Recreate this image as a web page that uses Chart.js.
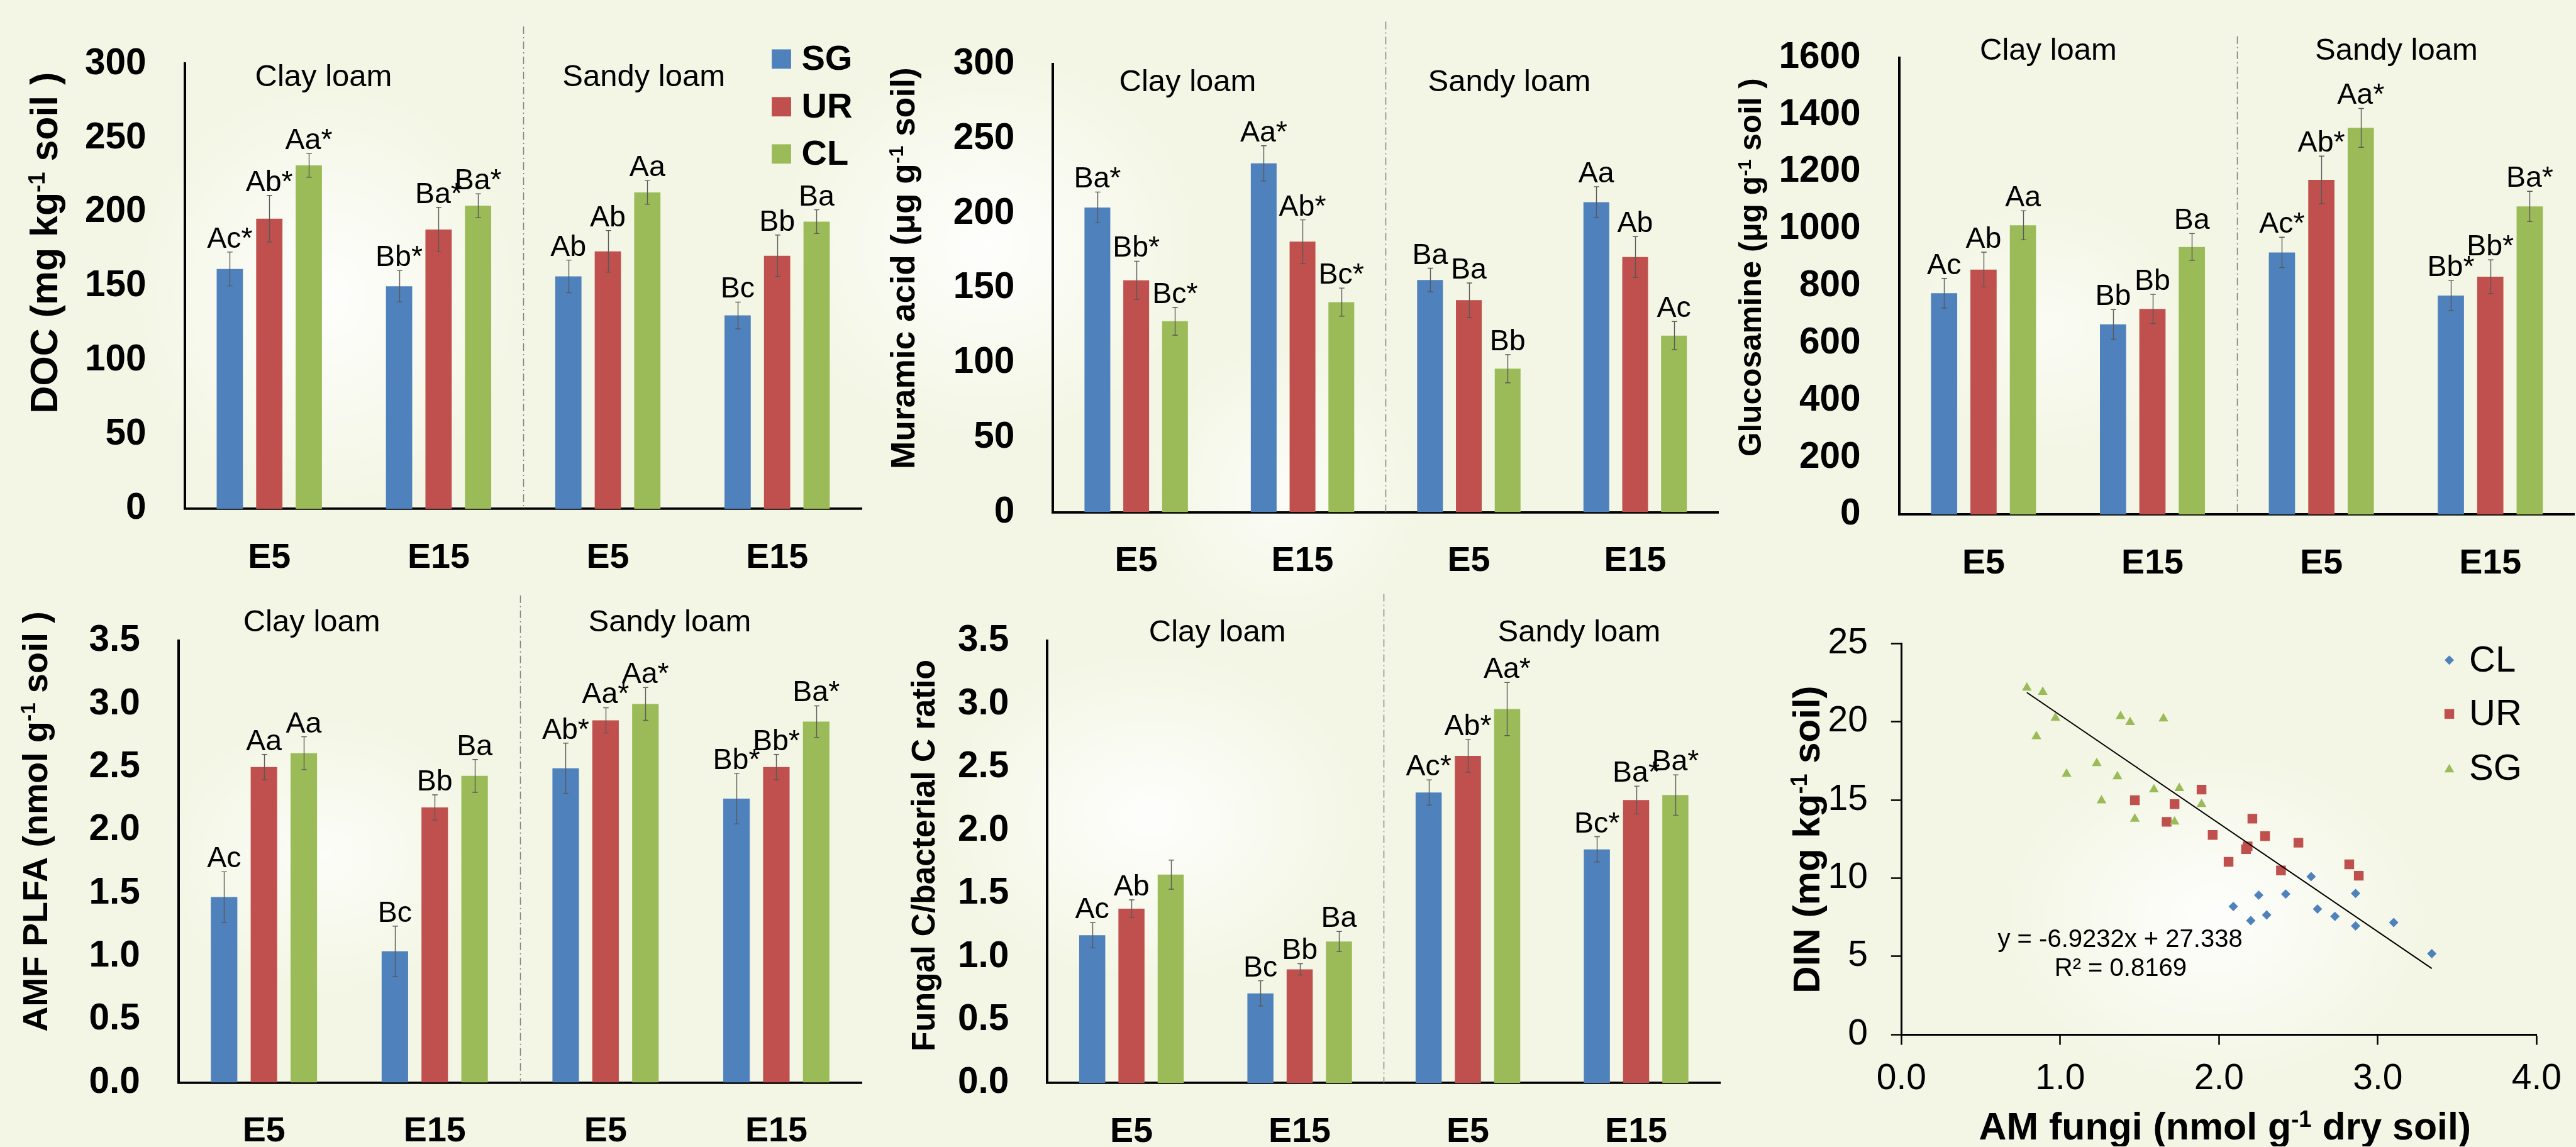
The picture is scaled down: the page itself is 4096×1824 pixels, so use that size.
<!DOCTYPE html>
<html>
<head>
<meta charset="utf-8">
<title>Soil microbial indices</title>
<script src="https://cdn.jsdelivr.net/npm/chart.js@4.4.1/dist/chart.umd.min.js"></script>
<style>
  html, body { margin: 0; padding: 0; }
  body {
    width: 4096px; height: 1824px; overflow: hidden; position: relative;
    background-color: #f3f6e4;
    background-image:
      radial-gradient(ellipse 420px 460px at 520px 470px, rgba(255,255,255,0.9), rgba(255,255,255,0) 75%),
      radial-gradient(ellipse 460px 420px at 1570px 390px, rgba(255,255,255,0.9), rgba(255,255,255,0) 75%),
      radial-gradient(ellipse 300px 320px at 2040px 780px, rgba(255,255,255,0.7), rgba(255,255,255,0) 75%),
      radial-gradient(ellipse 360px 300px at 520px 1360px, rgba(255,255,255,0.75), rgba(255,255,255,0) 75%),
      radial-gradient(ellipse 460px 360px at 1830px 1300px, rgba(255,255,255,0.9), rgba(255,255,255,0) 75%),
      radial-gradient(ellipse 460px 360px at 3520px 1460px, rgba(255,255,255,0.9), rgba(255,255,255,0) 75%),
      radial-gradient(ellipse 300px 280px at 3260px 520px, rgba(255,255,255,0.6), rgba(255,255,255,0) 75%);
  }
  canvas { position: absolute; }
</style>
</head>
<body>
<script>
// everything below is laid out in reference pixels, then scaled by S
const S = 0.751;
const FONT = "'Liberation Sans', Arial, Helvetica, sans-serif";

const periods = ["E5", "E15", "E5", "E15"];
const soilNames = ["Clay loam", "Sandy loam"];
const treatments = ["SG", "UR", "CL"];
const barColors = ["#4f81bd", "#c0504d", "#9bbb59"];

// DOC (mg kg-1 soil)
const docSG = [161.7, 150.1, 156.7, 130.4];
const docUR = [195.6, 188.3, 173.6, 170.6];
const docCL = [231.5, 204.4, 213.3, 193.6];
const docErrSG = [11.4, 10.6, 11.0, 9.0];
const docErrUR = [15.7, 15.0, 14.0, 14.0];
const docErrCL = [8.0, 8.0, 8.0, 8.0];
const docTagSG = ["Ac*", "Bb*", "Ab", "Bc"];
const docTagUR = ["Ab*", "Ba*", "Ab", "Bb"];
const docTagCL = ["Aa*", "Ba*", "Aa", "Ba"];

// Muramic acid (ug g-1 soil)
const murSG = [204.1, 233.6, 155.5, 207.6];
const murUR = [155.3, 181.2, 142.0, 170.9];
const murCL = [127.9, 140.7, 96.1, 118.3];
const murErrSG = [10.3, 11.8, 7.9, 10.4];
const murErrUR = [12.8, 14.6, 11.5, 13.7];
const murErrCL = [9.3, 9.4, 9.4, 9.4];
const murTagSG = ["Ba*", "Aa*", "Ba", "Aa"];
const murTagUR = ["Bb*", "Ab*", "Ba", "Ab"];
const murTagCL = ["Bc*", "Bc*", "Bb", "Ac"];

// Glucosamine (ug g-1 soil)
const gluSG = [775, 666, 918, 767];
const gluUR = [858, 720, 1172, 833];
const gluCL = [1013, 937, 1354, 1079];
const gluErrSG = [52, 52, 53, 52];
const gluErrUR = [61, 51, 83, 59];
const gluErrCL = [51, 47, 68, 53];
const gluTagSG = ["Ac", "Bb", "Ac*", "Bb*"];
const gluTagUR = ["Ab", "Bb", "Ab*", "Bb*"];
const gluTagCL = ["Aa", "Ba", "Aa*", "Ba*"];

// AMF PLFA (nmol g-1 soil)
const amfSG = [1.47, 1.04, 2.49, 2.25];
const amfUR = [2.50, 2.18, 2.87, 2.50];
const amfCL = [2.61, 2.43, 3.00, 2.86];
const amfErrSG = [0.20, 0.20, 0.20, 0.20];
const amfErrUR = [0.10, 0.10, 0.10, 0.10];
const amfErrCL = [0.13, 0.13, 0.13, 0.125];
const amfTagSG = ["Ac", "Bc", "Ab*", "Bb*"];
const amfTagUR = ["Aa", "Bb", "Aa*", "Bb*"];
const amfTagCL = ["Aa", "Ba", "Aa*", "Ba*"];

// Fungal C / bacterial C ratio
const fbSG = [1.17, 0.71, 2.30, 1.85];
const fbUR = [1.38, 0.90, 2.59, 2.24];
const fbCL = [1.65, 1.12, 2.96, 2.28];
const fbErrSG = [0.10, 0.10, 0.10, 0.10];
const fbErrUR = [0.07, 0.045, 0.13, 0.11];
const fbErrCL = [0.115, 0.08, 0.21, 0.16];
const fbTagSG = ["Ac", "Bc", "Ac*", "Bc*"];
const fbTagUR = ["Ab", "Bb", "Ab*", "Ba*"];
const fbTagCL = ["", "Ba", "Aa*", "Ba*"];

// DIN vs AM fungi
const clX = [2.58, 2.09, 2.25, 2.42, 2.20, 2.30, 2.62, 2.73, 2.86, 2.86, 3.10, 3.34];
const clY = [10.09, 8.18, 8.91, 8.98, 7.28, 7.64, 8.02, 7.55, 9.02, 6.94, 7.16, 5.17];
const urX = [1.47, 1.72, 1.89, 1.67, 1.96, 2.21, 2.29, 2.17, 2.18, 2.50, 2.06, 2.39, 2.82, 2.88];
const urY = [14.98, 14.73, 15.66, 13.60, 12.76, 13.80, 12.69, 11.85, 12.03, 12.26, 11.04, 10.49, 10.88, 10.15];
const sgX = [0.79, 0.89, 0.97, 0.85, 1.38, 1.44, 1.65, 1.23, 1.04, 1.36, 1.59, 1.75, 1.26, 1.89, 1.47, 1.72];
const sgY = [22.17, 21.90, 20.24, 19.06, 20.35, 19.97, 20.20, 17.34, 16.66, 16.50, 15.66, 15.75, 14.96, 14.73, 13.78, 13.60];
const trendX = [0.79, 3.34];
const trendY = [21.87, 4.22];

const panels = [
  { values: [docSG, docUR, docCL], errors: [docErrSG, docErrUR, docErrCL], tags: [docTagSG, docTagUR, docTagCL],
    box: [0, 0, 1845, 1240], area: [391, 135, 1824, 1078], yMax: 300, yStep: 50, dec: 0,
    title: [["DOC (mg kg", 0], ["-1", 1], [" soil )", 0]], titleAt: [92, 514], titleSize: 81,
    soilAt: [[685, 165], [1363, 165]], divTop: 56, legend: true },
  { values: [murSG, murUR, murCL], errors: [murErrSG, murErrUR, murErrCL], tags: [murTagSG, murTagUR, murTagCL],
    box: [1845, 0, 1805, 1240], area: [2229, 136, 3637, 1085], yMax: 300, yStep: 50, dec: 0,
    title: [["Muramic acid (\u03bcg g", 0], ["-1", 1], [" soil)", 0]], titleAt: [1910, 568], titleSize: 71,
    soilAt: [[2514, 175], [3195, 175]], divTop: 46 },
  { values: [gluSG, gluUR, gluCL], errors: [gluErrSG, gluErrUR, gluErrCL], tags: [gluTagSG, gluTagUR, gluTagCL],
    box: [3650, 0, 1802, 1240], area: [4021, 122, 5452, 1090], yMax: 1600, yStep: 200, dec: 0,
    title: [["Glucosamine (\u03bcg g", 0], ["-1", 1], [" soil )", 0]], titleAt: [3705, 566], titleSize: 66,
    soilAt: [[4337, 108], [5074, 108]], divTop: 77 },
  { values: [amfSG, amfUR, amfCL], errors: [amfErrSG, amfErrUR, amfErrCL], tags: [amfTagSG, amfTagUR, amfTagCL],
    box: [0, 1240, 1845, 1188], area: [378, 1325, 1824, 2293], yMax: 3.5, yStep: 0.5, dec: 1,
    title: [["AMF PLFA (nmol g", 0], ["-1", 1], [" soil )", 0]], titleAt: [73, 1740], titleSize: 74,
    soilAt: [[660, 1319], [1418, 1319]], divTop: 1261 },
  { values: [fbSG, fbUR, fbCL], errors: [fbErrSG, fbErrUR, fbErrCL], tags: [fbTagSG, fbTagUR, fbTagCL],
    box: [1845, 1240, 1805, 1188], area: [2217, 1351, 3641, 2294], yMax: 3.5, yStep: 0.5, dec: 1,
    title: [["Fungal C/bacterial C ratio", 0]], titleAt: [1953, 1812], titleSize: 68.5,
    soilAt: [[2577, 1340], [3343, 1340]], divTop: 1258 }
];

function place(box) {
  const [x, y, w, h] = box;
  const cv = document.createElement('canvas');
  cv.width = Math.round(w * S);
  cv.height = Math.round(h * S);
  cv.style.left = Math.round(x * S) + 'px';
  cv.style.top = Math.round(y * S) + 'px';
  cv.style.width = cv.width + 'px';
  cv.style.height = cv.height + 'px';
  document.body.appendChild(cv);
  return cv;
}

// text with a raised "-1" part
function drawRich(ctx, segs, cx, cy, size, rot) {
  ctx.save();
  ctx.translate(cx, cy);
  ctx.rotate(rot);
  const fonts = segs.map(s => 'bold ' + (s[1] ? size * 0.6 : size) + 'px ' + FONT);
  let total = 0;
  const widths = segs.map((s, i) => {
    ctx.font = fonts[i];
    const w = ctx.measureText(s[0]).width;
    total += w;
    return w;
  });
  let x = -total / 2;
  ctx.fillStyle = '#000';
  ctx.textAlign = 'left';
  ctx.textBaseline = 'alphabetic';
  segs.forEach((s, i) => {
    ctx.font = fonts[i];
    ctx.fillText(s[0], x, s[1] ? size * 0.03 : size * 0.36);
    x += widths[i];
  });
  ctx.restore();
}

function drawDivider(c, p) {
  const ctx = c.ctx, xs = c.scales.x;
  const x = Math.round((xs.getPixelForValue(1) + xs.getPixelForValue(2)) / 2) + 0.5;
  ctx.save();
  ctx.strokeStyle = '#808080';
  ctx.lineWidth = 1.5;
  ctx.setLineDash([12, 5, 2, 5]);
  ctx.beginPath();
  ctx.moveTo(x, (p.divTop - p.box[1]) * S);
  ctx.lineTo(x, c.chartArea.bottom);
  ctx.stroke();
  ctx.restore();
}

function drawDecor(c, p) {
  const ctx = c.ctx, ys = c.scales.y;
  const bx = p.box[0], by = p.box[1];
  ctx.save();
  treatments.forEach((_, i) => {
    c.getDatasetMeta(i).data.forEach((bar, j) => {
      const v = p.values[i][j], e = p.errors[i][j];
      const hi = ys.getPixelForValue(v + e), lo = ys.getPixelForValue(v - e);
      const x = Math.round(bar.x) + 0.5;
      ctx.strokeStyle = '#595959';
      ctx.lineWidth = 1.4;
      ctx.beginPath();
      ctx.moveTo(x, hi); ctx.lineTo(x, lo);
      ctx.moveTo(x - 4.3, hi); ctx.lineTo(x + 4.3, hi);
      ctx.moveTo(x - 4.3, lo); ctx.lineTo(x + 4.3, lo);
      ctx.stroke();
      const tag = p.tags[i][j];
      if (tag) {
        ctx.fillStyle = '#000';
        ctx.font = '46.5px ' + FONT;
        ctx.textAlign = 'center';
        ctx.textBaseline = 'alphabetic';
        ctx.fillText(tag, bar.x, hi - 7);
      }
    });
  });
  ctx.fillStyle = '#000';
  ctx.font = '49px ' + FONT;
  ctx.textAlign = 'center';
  ctx.textBaseline = 'middle';
  soilNames.forEach((s, k) => ctx.fillText(s, (p.soilAt[k][0] - bx) * S, (p.soilAt[k][1] - by) * S));
  drawRich(ctx, p.title, (p.titleAt[0] - bx) * S, (p.titleAt[1] - by) * S, p.titleSize * S, -Math.PI / 2);
  if (p.legend) {
    const rows = [125, 226, 326];
    treatments.forEach((name, i) => {
      ctx.fillStyle = barColors[i];
      ctx.fillRect((1634 - bx) * S, (rows[i] - 20.5 - by) * S, 41 * S, 41 * S);
      ctx.fillStyle = '#000';
      ctx.font = 'bold 56px ' + FONT;
      ctx.textAlign = 'left';
      ctx.textBaseline = 'middle';
      ctx.fillText(name, (1697 - bx) * S, (rows[i] - by) * S + 2);
    });
  }
  ctx.restore();
}

function barPanel(p) {
  const [bx, by, bw, bh] = p.box;
  const [l, t, r, b] = p.area;
  new Chart(place(p.box), {
    type: 'bar',
    data: {
      labels: periods,
      datasets: treatments.map((name, i) => ({
        label: name,
        data: p.values[i],
        backgroundColor: barColors[i],
        borderWidth: 0,
        barPercentage: 0.665,
        categoryPercentage: 0.7
      }))
    },
    options: {
      responsive: false,
      animation: false,
      devicePixelRatio: 1,
      layout: { padding: { left: 0, top: (t - by) * S, right: (bx + bw - r) * S, bottom: 0 } },
      plugins: { legend: { display: false }, tooltip: { enabled: false } },
      scales: {
        x: {
          grid: { display: false },
          border: { display: true, color: '#000', width: 3.8 },
          ticks: { color: '#000', padding: 37, font: { family: FONT, size: 55.6, weight: 'bold' } },
          afterFit: s => { s.height = (by + bh - b) * S; }
        },
        y: {
          min: 0, max: p.yMax,
          grid: { display: false },
          border: { display: true, color: '#000', width: 4 },
          ticks: {
            stepSize: p.yStep, color: '#000', padding: 53,
            font: { family: FONT, size: 58.5, weight: 'bold' },
            callback: v => Number(v).toFixed(p.dec)
          },
          afterFit: s => { s.width = (l - bx) * S; }
        }
      }
    },
    plugins: [{
      id: 'decor',
      beforeDatasetsDraw: c => drawDivider(c, p),
      afterDatasetsDraw: c => drawDecor(c, p)
    }]
  });
}

function marker(ctx, kind, x, y, color) {
  ctx.fillStyle = color;
  ctx.beginPath();
  if (kind === 'diamond') {
    const r = 7.5;
    ctx.moveTo(x, y - r); ctx.lineTo(x + r, y); ctx.lineTo(x, y + r); ctx.lineTo(x - r, y);
  } else if (kind === 'square') {
    ctx.rect(x - 7.7, y - 7.7, 15.4, 15.4);
  } else {
    ctx.moveTo(x, y - 7); ctx.lineTo(x + 7.8, y + 6.5); ctx.lineTo(x - 7.8, y + 6.5);
  }
  ctx.closePath();
  ctx.fill();
}

function scatterPanel() {
  const box = [3650, 1240, 1802, 1188];
  const area = [4026, 1363, 5390, 2191];
  const [bx, by, bw, bh] = box;
  const pts = (xs, ys) => xs.map((x, i) => ({ x: x, y: ys[i] }));
  const tickFont = { family: FONT, size: 57 };
  new Chart(place(box), {
    type: 'scatter',
    data: {
      datasets: [
        { label: 'trend', type: 'line', data: pts(trendX, trendY), borderColor: '#000', borderWidth: 2,
          pointRadius: 0, fill: false, tension: 0, order: -1 },
        { label: 'CL', data: pts(clX, clY), pointStyle: 'rectRot', pointRadius: 7.5,
          backgroundColor: '#4f81bd', borderColor: '#4f81bd', borderWidth: 0, order: 2 },
        { label: 'UR', data: pts(urX, urY), pointStyle: 'rect', pointRadius: 10.9,
          backgroundColor: '#c0504d', borderColor: '#c0504d', borderWidth: 0, order: 1 },
        { label: 'SG', data: pts(sgX, sgY), pointStyle: 'triangle', pointRadius: 9,
          backgroundColor: '#9bbb59', borderColor: '#9bbb59', borderWidth: 0, order: 0 }
      ]
    },
    options: {
      responsive: false,
      animation: false,
      devicePixelRatio: 1,
      layout: { padding: { left: 0, top: (area[1] - by) * S, right: (bx + bw - area[2]) * S, bottom: 0 } },
      plugins: { legend: { display: false }, tooltip: { enabled: false } },
      scales: {
        x: {
          type: 'linear', min: 0, max: 4,
          grid: { drawOnChartArea: false, drawTicks: true, tickLength: 16.5, tickColor: '#000', tickWidth: 2.5 },
          border: { display: true, color: '#000', width: 3 },
          ticks: { stepSize: 1, color: '#000', padding: 21, font: tickFont, callback: v => Number(v).toFixed(1) },
          afterFit: s => { s.height = (by + bh - area[3]) * S; }
        },
        y: {
          min: 0, max: 25,
          grid: { drawOnChartArea: false, drawTicks: true, tickLength: 16.5, tickColor: '#000', tickWidth: 2.5 },
          border: { display: true, color: '#000', width: 3 },
          ticks: { stepSize: 5, color: '#000', padding: 37, font: tickFont },
          afterFit: s => { s.width = (area[0] - bx) * S; }
        }
      }
    },
    plugins: [{
      id: 'decorScatter',
      afterDatasetsDraw: c => {
        const ctx = c.ctx;
        ctx.save();
        drawRich(ctx, [["DIN (mg kg", 0], ["-1", 1], [" soil)", 0]], (3823 - bx) * S, (1778 - by) * S, 80 * S, -Math.PI / 2);
        drawRich(ctx, [["AM fungi (nmol g", 0], ["-1", 1], [" dry soil)", 0]], (4711 - bx) * S, (2384 - by) * S, 81 * S, 0);
        ctx.fillStyle = '#000';
        ctx.font = '40px ' + FONT;
        ctx.textAlign = 'center';
        ctx.textBaseline = 'middle';
        ctx.fillText('y = -6.9232x + 27.338', (4489 - bx) * S, (1991 - by) * S);
        ctx.fillText('R\u00b2 = 0.8169', (4490 - bx) * S, (2052 - by) * S);
        const leg = [['CL', 'diamond', '#4f81bd', 1398], ['UR', 'square', '#c0504d', 1512], ['SG', 'triangle', '#9bbb59', 1627]];
        leg.forEach(([name, kind, color, yy]) => {
          marker(ctx, kind, (5186 - bx) * S, (yy - by) * S, color);
          ctx.fillStyle = '#000';
          ctx.font = '58px ' + FONT;
          ctx.textAlign = 'left';
          ctx.textBaseline = 'middle';
          ctx.fillText(name, (5228 - bx) * S, (yy - by) * S + 2);
        });
        ctx.restore();
      }
    }]
  });
}

panels.forEach(barPanel);
scatterPanel();
</script>
</body>
</html>
